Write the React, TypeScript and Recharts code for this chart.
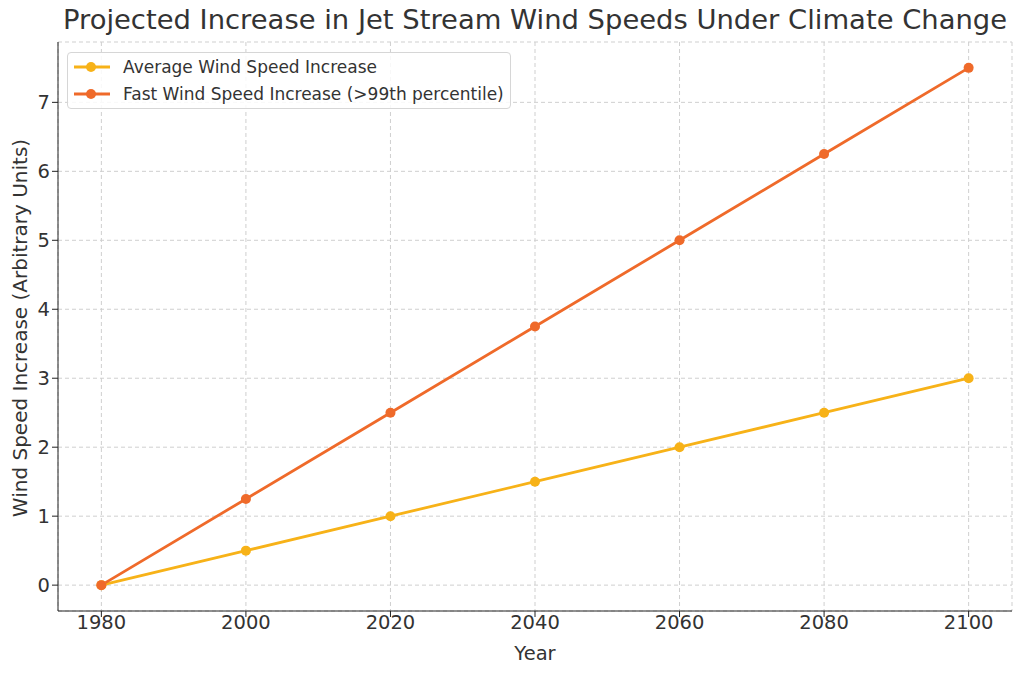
import React from "react";
import { LineChart, Line, XAxis, YAxis, CartesianGrid } from "recharts";

const years = [1980, 2000, 2020, 2040, 2060, 2080, 2100];
const averageIncrease = [0, 0.5, 1, 1.5, 2, 2.5, 3];
const fastIncrease = [0, 1.25, 2.5, 3.75, 5, 6.25, 7.5];
const yTicks = [0, 1, 2, 3, 4, 5, 6, 7];

const AVG_COLOR = "#f7b218";
const FAST_COLOR = "#ef6a2a";
const FONT = "'DejaVu Sans', sans-serif";

const data = years.map((year, i) => ({
  year,
  avg: averageIncrease[i],
  fast: fastIncrease[i],
}));

const legendItems = [
  { label: "Average Wind Speed Increase", color: AVG_COLOR },
  { label: "Fast Wind Speed Increase (>99th percentile)", color: FAST_COLOR },
];

// legend drawn as an overlay, so it takes no room from the plot
function LegendBox() {
  return (
    <div
      style={{
        position: "absolute",
        left: 67,
        top: 52,
        width: 444,
        height: 57,
        boxSizing: "border-box",
        background: "rgba(255,255,255,0.85)",
        border: "1px solid #d6d6d6",
        borderRadius: 4,
        padding: "0 0 0 4px",
        fontFamily: FONT,
        fontSize: 17,
        color: "#333",
      }}
    >
      {legendItems.map((item) => (
        <div key={item.label} style={{ display: "flex", alignItems: "center", height: 27 }}>
          <svg width={40} height={14} style={{ marginRight: 11 }}>
            <line x1={2} y1={7} x2={38} y2={7} stroke={item.color} strokeWidth={2.8} />
            <circle cx={19} cy={7} r={5} fill={item.color} />
          </svg>
          <span style={{ whiteSpace: "nowrap" }}>{item.label}</span>
        </div>
      ))}
    </div>
  );
}

export default function App() {
  return (
    <div style={{ position: "absolute", left: 0, top: 0, width: 1024, height: 677, background: "#fff" }}>
      <div
        style={{
          position: "absolute",
          left: 58,
          width: 954,
          top: 4,
          textAlign: "center",
          fontFamily: FONT,
          fontSize: 27.4,
          color: "#333",
          whiteSpace: "nowrap",
        }}
      >
        Projected Increase in Jet Stream Wind Speeds Under Climate Change
      </div>
      <LineChart width={1024} height={677} data={data} margin={{ top: 42, right: 12, left: 0, bottom: 0 }}>
        <CartesianGrid stroke="#cfcfcf" strokeDasharray="4 3" />
        <XAxis
          dataKey="year"
          type="number"
          domain={[1974, 2106]}
          ticks={years}
          allowDataOverflow
          height={66}
          stroke="#222"
          tickSize={6}
          tick={{ fill: "#333", fontSize: 19.5, fontFamily: FONT, dy: -4 }}
          label={{
            content: () => (
              <text x={535} y={660} textAnchor="middle" fill="#333" fontSize={19.5} fontFamily={FONT}>
                Year
              </text>
            ),
          }}
        />
        <YAxis
          type="number"
          domain={[-0.375, 7.875]}
          ticks={yTicks}
          allowDataOverflow
          width={58}
          stroke="#222"
          tickSize={6}
          tick={{ fill: "#333", fontSize: 19.5, fontFamily: FONT }}
          label={{
            content: () => (
              <text
                x={20}
                y={328}
                transform="rotate(-90 20 328)"
                textAnchor="middle"
                dominantBaseline="central"
                fill="#333"
                fontSize={20}
                fontFamily={FONT}
              >
                Wind Speed Increase (Arbitrary Units)
              </text>
            ),
          }}
        />
        <Line
          dataKey="avg"
          stroke={AVG_COLOR}
          strokeWidth={2.8}
          dot={{ r: 5, fill: AVG_COLOR, stroke: AVG_COLOR, strokeWidth: 0 }}
          isAnimationActive={false}
        />
        <Line
          dataKey="fast"
          stroke={FAST_COLOR}
          strokeWidth={2.8}
          dot={{ r: 5, fill: FAST_COLOR, stroke: FAST_COLOR, strokeWidth: 0 }}
          isAnimationActive={false}
        />
      </LineChart>
      <LegendBox />
    </div>
  );
}
